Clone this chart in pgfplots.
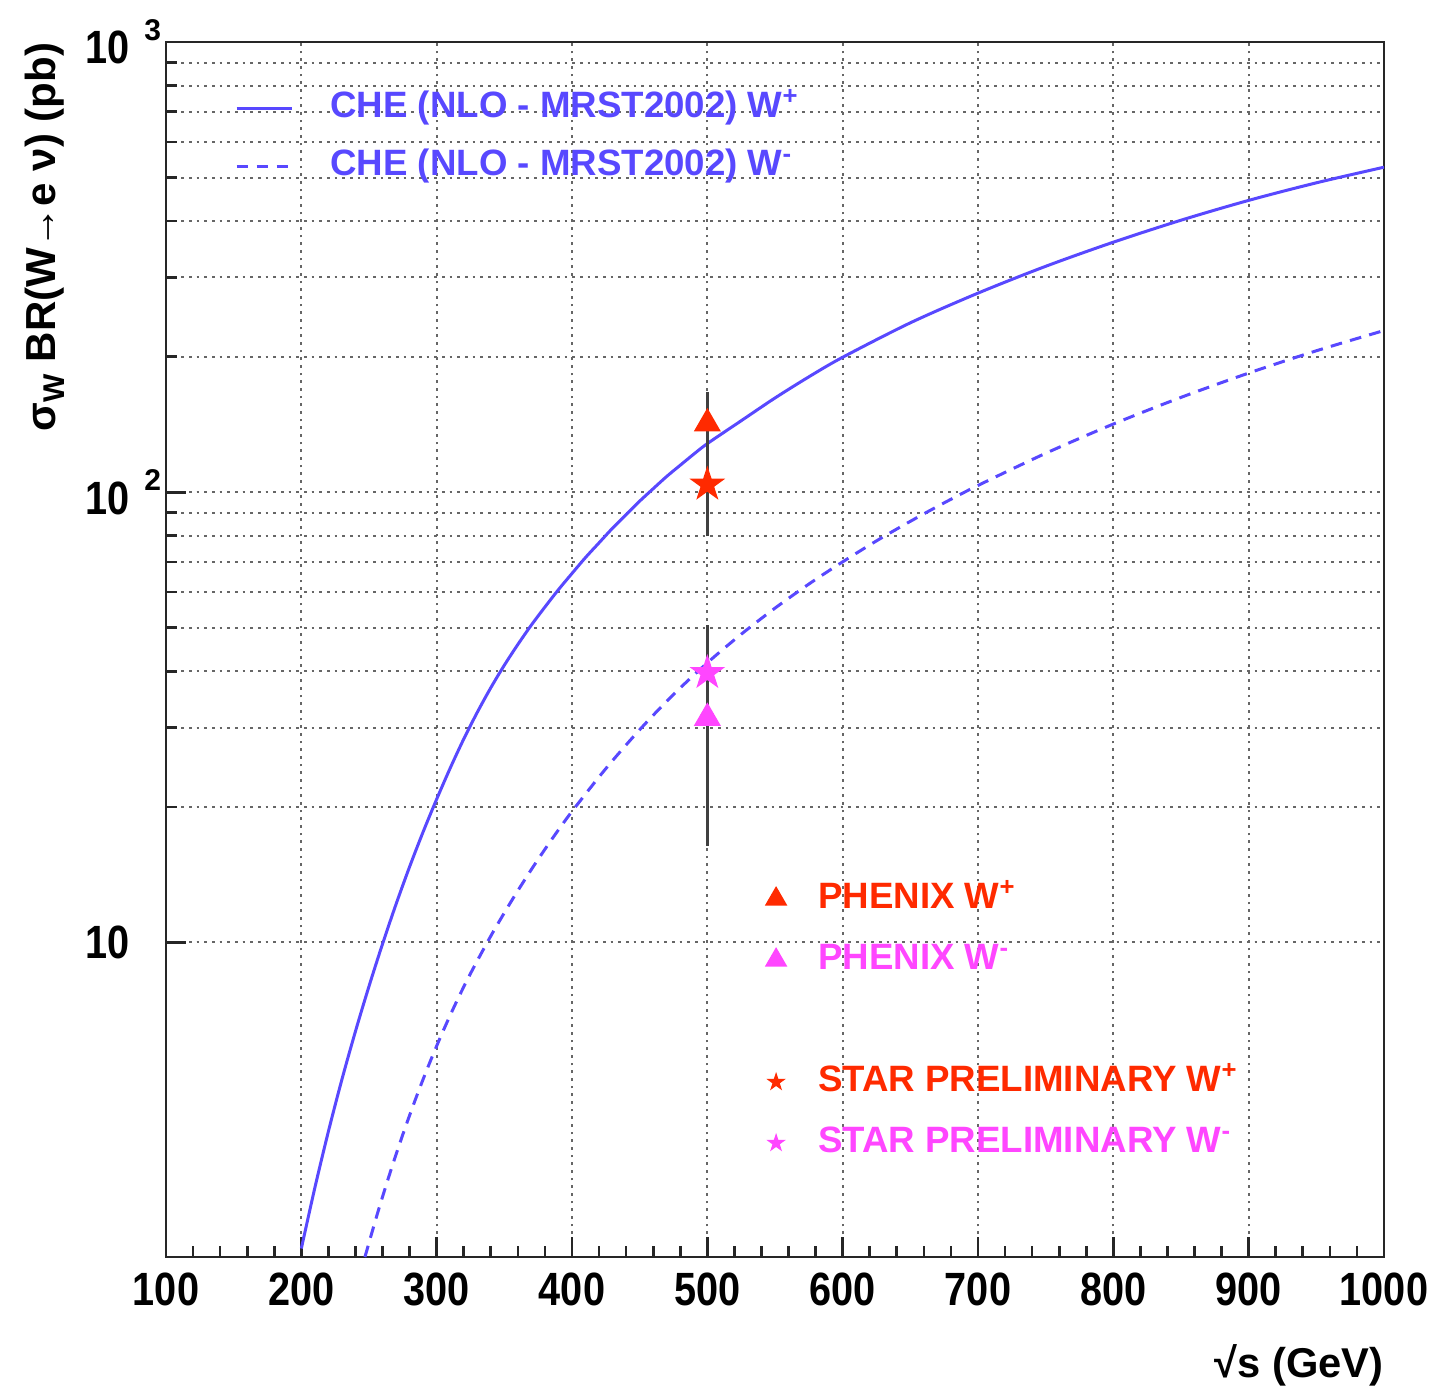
\documentclass[border=0pt]{standalone}
\usepackage{fontspec}
\setmainfont{Liberation Sans}
\usepackage{graphicx}
\usepackage{pgfplots}
\pgfplotsset{compat=1.18}
\definecolor{cblue}{RGB}{88,72,255}
\definecolor{cred}{RGB}{255,42,0}
\definecolor{cmag}{RGB}{255,70,255}
\newcommand{\tl}[1]{\scalebox{0.85}[1]{#1}}
\newcommand{\supx}[1]{\rlap{\hspace{4.5pt}\raisebox{7pt}{\fontsize{9}{9}\selectfont\bfseries #1}}}
\pgfdeclareplotmark{fstar}{%
  \pgfpathmoveto{\pgfpointpolar{90}{\pgfplotmarksize}}%
  \pgfpathlineto{\pgfpointpolar{126}{0.382*\pgfplotmarksize}}%
  \pgfpathlineto{\pgfpointpolar{162}{\pgfplotmarksize}}%
  \pgfpathlineto{\pgfpointpolar{198}{0.382*\pgfplotmarksize}}%
  \pgfpathlineto{\pgfpointpolar{234}{\pgfplotmarksize}}%
  \pgfpathlineto{\pgfpointpolar{270}{0.382*\pgfplotmarksize}}%
  \pgfpathlineto{\pgfpointpolar{306}{\pgfplotmarksize}}%
  \pgfpathlineto{\pgfpointpolar{342}{0.382*\pgfplotmarksize}}%
  \pgfpathlineto{\pgfpointpolar{18}{\pgfplotmarksize}}%
  \pgfpathlineto{\pgfpointpolar{54}{0.382*\pgfplotmarksize}}%
  \pgfpathclose\pgfusepathqfillstroke}
\begin{document}
\begin{tikzpicture}
\begin{axis}[width=365.4pt, height=364.5pt, scale only axis,
  xmin=100, xmax=1000, ymin=2, ymax=1000, ymode=log,
  name=main,
  axis line style={black!85, line width=0.8pt},
  tick style={black!85, line width=0.8pt},
  major tick length=6pt, minor tick length=3.3pt,
  xtick pos=bottom, ytick pos=left,
  xtick={100,200,...,1000},
  xticklabels={\tl{100},\tl{200},\tl{300},\tl{400},\tl{500},\tl{600},\tl{700},\tl{800},\tl{900},\tl{1000}},
  minor x tick num=4,
  ytick={10,100,1000},
  yticklabels={\tl{10},{\tl{10}\supx{2}},{\tl{10}\supx{3}}},
  ticklabel style={font=\fontsize{14}{16}\selectfont\bfseries, inner sep=0pt},
  xticklabel style={anchor=north, yshift=-4.5pt},
  yticklabel style={anchor=east, xshift=-10.8pt},
  xmajorgrids, ymajorgrids, yminorgrids,
  major grid style={black!60, line width=0.6pt, dash pattern=on 0.8pt off 1.5pt},
  minor grid style={black!60, line width=0.6pt, dash pattern=on 0.8pt off 1.5pt},
  xlabel={\fontsize{12.5}{14}\selectfont\bfseries √s (GeV)},
  xlabel style={at={(rel axis cs:1,-0.0889)}, anchor=east, inner sep=0pt},
  ylabel={\fontsize{12.6}{14}\selectfont\bfseries σ\raisebox{-0.4ex}{\fontsize{9}{9}\selectfont W} BR(W→e ν) (pb)},
  ylabel style={at={(rel axis cs:-0.0993,1)}, anchor=east, inner sep=0pt},
  legend style={draw=none, fill=none, at={(0.0567,0.960)}, anchor=north west,
    inner sep=0pt, outer sep=0pt, row sep=6.9pt, column sep=11.2pt,
    font=\fontsize{11}{13}\selectfont\bfseries,
    nodes={inner sep=0pt, text height=8pt, text depth=2.5pt}},
  legend cell align=left,
  legend image code/.code={\draw[#1] (0pt,0pt) -- (16.5pt,0pt);},
]
\addplot[cblue, line width=0.9pt, smooth] coordinates {
(200,2.089) (210,2.851) (220,3.802) (230,4.961) (240,6.346) (250,7.990) (260,9.920)
(270,12.16) (280,14.72) (290,17.60) (300,20.80) (310,24.38) (320,28.29) (330,32.43)
(340,36.78) (350,41.27) (360,45.89) (370,50.70) (380,55.58) (390,60.75) (400,66.00)
(410,71.60) (420,77.20) (430,83.22) (440,89.15) (450,95.52) (460,101.8) (470,108.4)
(480,114.8) (490,121.5) (500,128.2) (525,144.1) (550,161.9) (575,180.4) (600,199.4) (650,237.8)
(700,276.8) (750,317.5) (800,359.2) (850,401.9) (900,444.8) (950,486.6) (1000,527.1)};
\addlegendentry{\textcolor{cblue}{CHE (NLO - MRST2002) W\textsuperscript{+}}}
\addplot[cblue, line width=0.9pt, dash pattern=on 3.5pt off 2.5pt, smooth] coordinates {
(247,2.000) (256,2.484) (265,3.040) (275,3.744) (285,4.537) (295,5.417) (305,6.379)
(315,7.419) (325,8.527) (340,10.33) (355,12.32) (370,14.52) (385,16.93) (400,19.54)
(425,24.32) (450,29.67) (475,35.54) (500,41.78) (525,48.35) (550,55.26) (575,62.50)
(600,70.03) (625,77.97) (650,86.15) (675,94.69) (700,103.5) (750,122.0) (800,141.7)
(850,162.4) (900,183.9) (950,206.1) (1000,228.6)};
\addlegendentry{\textcolor{cblue}{CHE (NLO - MRST2002) W\textsuperscript{-}}}
\end{axis}
\begin{axis}[width=365.4pt, height=364.5pt, scale only axis,
  xmin=100, xmax=1000, ymin=2, ymax=1000, ymode=log,
  hide axis,
  legend style={draw=none, fill=none, at={(0.4926,0.309)}, anchor=north west,
    inner sep=0pt, outer sep=0pt, row sep=7.8pt, column sep=9.6pt,
    font=\fontsize{11}{13}\selectfont\bfseries,
    nodes={inner sep=0pt, text height=8pt, text depth=2.5pt}},
  legend cell align=left,
  legend image code/.code={\draw[#1] plot coordinates {(0pt,0pt)};},
]
\addplot[only marks, mark=none, forget plot, error bars/.cd, y dir=both, y explicit,
  error mark=none, error bar style={black!75, line width=1pt}]
  coordinates {(500,142) += (0,25) -= (0,62) (500,31.5) += (0,19.1) -= (0,15.1)};
\addplot[only marks, mark=triangle*, mark size=4.3pt, color=cred, legend image post style={mark size=3.5pt}] coordinates {(500,142)};
\addlegendentry{\textcolor{cred}{PHENIX W\textsuperscript{+}}}
\addplot[only marks, mark=triangle*, mark size=4.3pt, color=cmag, legend image post style={mark size=3.5pt}] coordinates {(500,31.5)};
\addlegendentry{\textcolor{cmag}{PHENIX W\textsuperscript{-}}}
\addlegendimage{empty legend}
\addlegendentry{}
\addplot[only marks, mark=fstar, mark size=5pt, color=cred, legend image post style={mark size=2.4pt}] coordinates {(500,104)};
\addlegendentry{\textcolor{cred}{STAR PRELIMINARY W\textsuperscript{+}}}
\addplot[only marks, mark=fstar, mark size=5pt, color=cmag, legend image post style={mark size=2.4pt}] coordinates {(500,39.7)};
\addlegendentry{\textcolor{cmag}{STAR PRELIMINARY W\textsuperscript{-}}}
\end{axis}
\pgfresetboundingbox
\path[use as bounding box] ([shift={(-49.8pt,-39.9pt)}]main.south west) rectangle ([shift={(14.7pt,12.6pt)}]main.north east);
\end{tikzpicture}
\end{document}
